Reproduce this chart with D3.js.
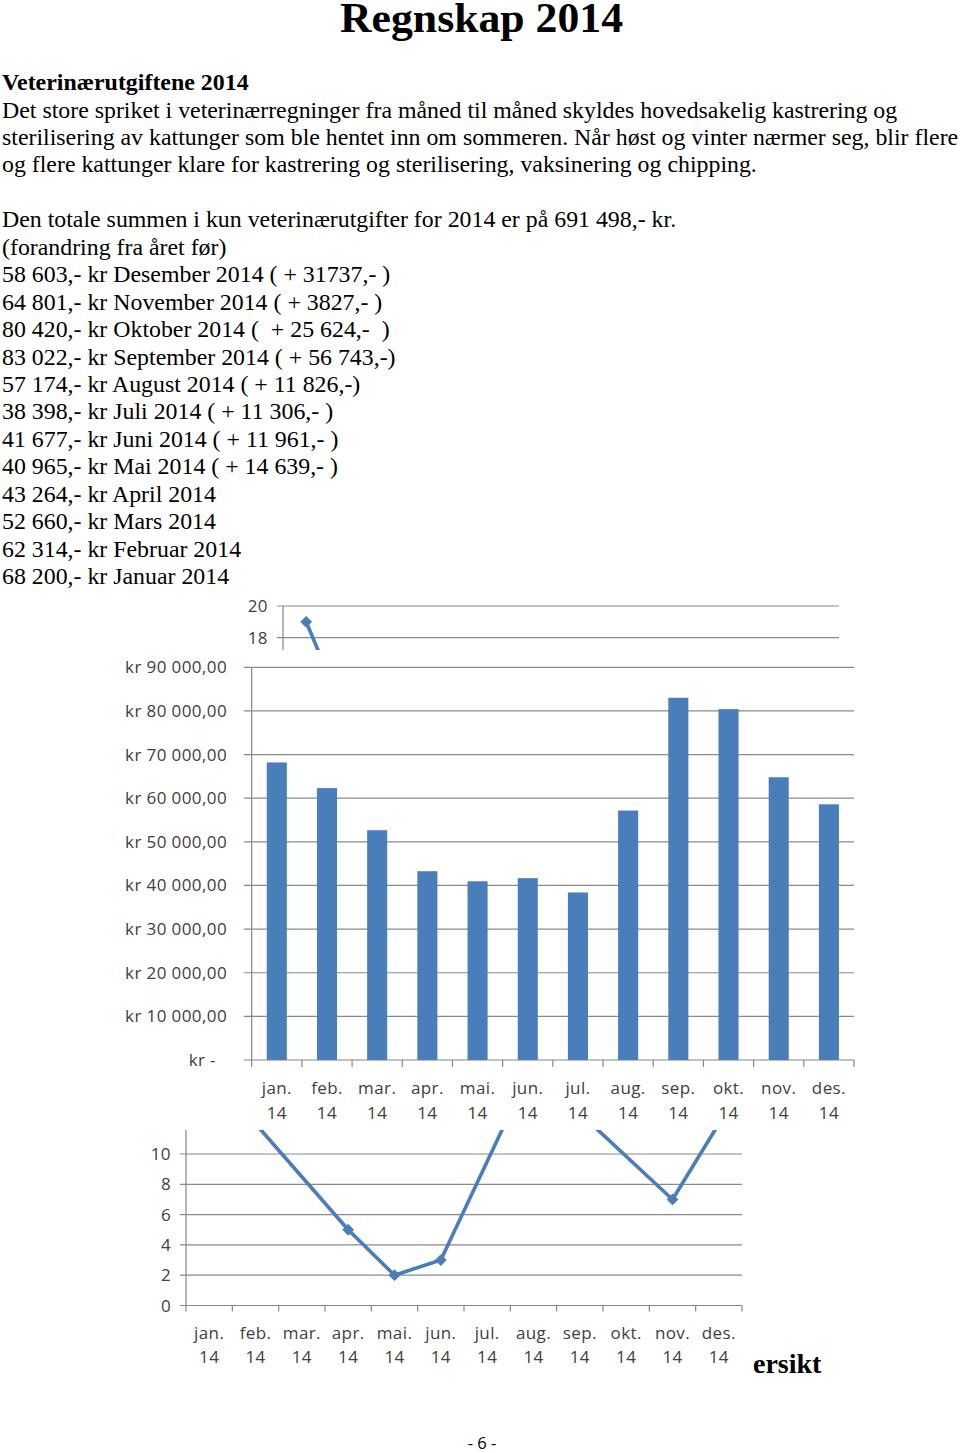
<!DOCTYPE html>
<html><head><meta charset="utf-8">
<script src="https://cdn.jsdelivr.net/npm/d3@7"></script>
<style>body{margin:0;background:#fff}svg{display:block}</style>
</head><body>
<svg id="c" width="960" height="1453"></svg>
<script>
// ---------- data ----------
const months = ["jan.","feb.","mar.","apr.","mai.","jun.","jul.","aug.","sep.","okt.","nov.","des."];
const yearLabel = "14";
const vetCosts = [68200, 62314, 52660, 43264, 40965, 41677, 38398, 57174, 83022, 80420, 64801, 58603];
const barTicks = [0, 10000, 20000, 30000, 40000, 50000, 60000, 70000, 80000, 90000];
const lineValues = [19, 12, null, 5, 2, 3, null, 16, 12.7, null, 7, 12];
const lineTicks = [0, 2, 4, 6, 8, 10, 12, 14, 16, 18, 20];
const title = "Regnskap 2014";
const heading = "Veterinærutgiftene 2014";
const paragraph = [
  "Det store spriket i veterinærregninger fra måned til måned skyldes hovedsakelig kastrering og",
  "sterilisering av kattunger som ble hentet inn om sommeren. Når høst og vinter nærmer seg, blir flere",
  "og flere kattunger klare for kastrering og sterilisering, vaksinering og chipping.",
  "",
  "Den totale summen i kun veterinærutgifter for 2014 er på 691 498,- kr.",
  "(forandring fra året før)",
  "58 603,- kr Desember 2014 ( + 31737,- )",
  "64 801,- kr November 2014 ( + 3827,- )",
  "80 420,- kr Oktober 2014 (  + 25 624,-  )",
  "83 022,- kr September 2014 ( + 56 743,-)",
  "57 174,- kr August 2014 ( + 11 826,-)",
  "38 398,- kr Juli 2014 ( + 11 306,- )",
  "41 677,- kr Juni 2014 ( + 11 961,- )",
  "40 965,- kr Mai 2014 ( + 14 639,- )",
  "43 264,- kr April 2014",
  "52 660,- kr Mars 2014",
  "62 314,- kr Februar 2014",
  "68 200,- kr Januar 2014"
];
const footerWord = "ersikt";
const pageNumber = "- 6 -";

// ---------- styles ----------
const blue = "#4a7ebb", grid = "#8a8a8a", axisCol = "#868686", lab = "#404040";
const serif = "'Liberation Serif','Times New Roman',serif";
const sans = "'Open Sans',sans-serif";
const labSize = 17, labSpacing = 0.4;

const svg = d3.select("#c");

// ---------- text block ----------
svg.append("text").attr("x", 340).attr("y", 32)
  .attr("font-family", serif).attr("font-weight", "bold").attr("font-size", 43)
  .attr("textLength", 283).attr("lengthAdjust", "spacingAndGlyphs")
  .text(title);
svg.append("text").attr("x", 2).attr("y", 90)
  .attr("font-family", serif).attr("font-weight", "bold").attr("font-size", 23.9)
  .text(heading);
svg.append("g").selectAll("text").data(paragraph).join("text")
  .attr("x", 2).attr("y", (d, i) => 117.5 + i * 27.45)
  .attr("font-family", serif).attr("font-size", 23.85).attr("fill", "#000")
  .style("white-space", "pre").attr("xml:space", "preserve")
  .text(d => d);

// ---------- line chart (drawn as two visible pieces) ----------
const lineData = lineValues.map((v, i) => ({m: months[i], v})).filter(d => d.v !== null);

function drawLineChart(g, x0, x1, yZero, yTop, labelTicks, showX) {
  const x = d3.scaleBand().domain(months).range([x0, x1]);
  const y = d3.scaleLinear().domain([0, 20]).range([yZero, yTop]);
  g.append("g").selectAll("line").data(lineTicks.filter(t => t > 0)).join("line")
    .attr("x1", x0 - 6).attr("x2", x1).attr("y1", d => y(d)).attr("y2", d => y(d))
    .attr("stroke", grid).attr("stroke-width", 1.2);
  g.append("line").attr("x1", x0).attr("x2", x0).attr("y1", yZero).attr("y2", yTop)
    .attr("stroke", axisCol).attr("stroke-width", 1.2);
  g.append("line").attr("x1", x0 - 6).attr("x2", x1).attr("y1", yZero).attr("y2", yZero)
    .attr("stroke", axisCol).attr("stroke-width", 1.2);
  const edges = months.map(m => x(m)).concat([x1]);
  g.append("g").selectAll("line").data(edges).join("line")
    .attr("x1", d => d).attr("x2", d => d).attr("y1", yZero).attr("y2", yZero + 6)
    .attr("stroke", axisCol).attr("stroke-width", 1.2);
  g.append("g").selectAll("text").data(labelTicks).join("text")
    .attr("x", x0 - 15).attr("y", d => y(d) + 6).attr("text-anchor", "end")
    .attr("font-family", sans).attr("font-size", labSize).attr("letter-spacing", labSpacing)
    .attr("fill", lab).text(d => d);
  if (showX) {
    const xl = g.append("g").selectAll("g").data(months).join("g")
      .attr("transform", d => `translate(${x(d) + x.bandwidth() / 2},0)`);
    xl.append("text").attr("y", yZero + 33).attr("text-anchor", "middle")
      .attr("font-family", sans).attr("font-size", labSize).attr("letter-spacing", labSpacing)
      .attr("fill", lab).text(d => d);
    xl.append("text").attr("y", yZero + 57).attr("text-anchor", "middle")
      .attr("font-family", sans).attr("font-size", labSize).attr("letter-spacing", labSpacing)
      .attr("fill", lab).text(yearLabel);
  }
  const line = d3.line().x(d => x(d.m) + x.bandwidth() / 2).y(d => y(d.v));
  g.append("path").datum(lineData).attr("d", line)
    .attr("fill", "none").attr("stroke", blue).attr("stroke-width", 3.6)
    .attr("stroke-linejoin", "round");
  g.append("g").selectAll("path").data(lineData).join("path")
    .attr("transform", d => `translate(${x(d.m) + x.bandwidth() / 2},${y(d.v)}) rotate(45)`)
    .attr("d", d3.symbol(d3.symbolSquare, 70)())
    .attr("fill", blue);
}

// top piece (clipped)
svg.append("clipPath").attr("id", "topclip").append("rect")
  .attr("x", 0).attr("y", 590).attr("width", 960).attr("height", 60);
const topG = svg.append("g").attr("clip-path", "url(#topclip)");
drawLineChart(topG, 283, 839, 606 + 20 * 15.8, 606, [18, 20], false);

// bottom piece
const botG = svg.append("g");
drawLineChart(botG, 186, 742, 1305.5, 1305.5 - 20 * 15.15, [0, 2, 4, 6, 8, 10], true);

// ---------- bar chart (on white panel covering the middle) ----------
svg.append("rect").attr("x", 90).attr("y", 650).attr("width", 785).attr("height", 480).attr("fill", "#fff");

const bx0 = 251.7, bx1 = 854, by0 = 1060, byTop = 667.3;
const xb = d3.scaleBand().domain(months).range([bx0, bx1]).paddingInner(0.6).paddingOuter(0.3);
const xbEdges = d3.scaleBand().domain(months).range([bx0, bx1]);
const yb = d3.scaleLinear().domain([0, 90000]).range([by0, byTop]);
const krLocale = d3.formatLocale({decimal: ",", thousands: "\u00a0", grouping: [3], currency: ["kr ", ""]});
const krFmt = krLocale.format(",.2f");

const bar = svg.append("g");
bar.append("g").selectAll("line").data(barTicks.filter(t => t > 0)).join("line")
  .attr("x1", bx0 - 8).attr("x2", bx1).attr("y1", d => yb(d)).attr("y2", d => yb(d))
  .attr("stroke", grid).attr("stroke-width", 1.2);
bar.append("line").attr("x1", bx0).attr("x2", bx0).attr("y1", by0).attr("y2", byTop)
  .attr("stroke", axisCol).attr("stroke-width", 1.2);
bar.append("line").attr("x1", bx0 - 8).attr("x2", bx1).attr("y1", by0).attr("y2", by0)
  .attr("stroke", axisCol).attr("stroke-width", 1.2);
const bEdges = months.map(m => xbEdges(m)).concat([bx1]);
bar.append("g").selectAll("line").data(bEdges).join("line")
  .attr("x1", d => d).attr("x2", d => d).attr("y1", by0).attr("y2", by0 + 7)
  .attr("stroke", axisCol).attr("stroke-width", 1.2);
bar.append("g").selectAll("text").data(barTicks).join("text")
  .attr("x", d => d === 0 ? 216 : 227).attr("y", d => yb(d) + 6).attr("text-anchor", "end")
  .attr("font-family", sans).attr("font-size", labSize).attr("letter-spacing", labSpacing)
  .attr("fill", lab)
  .text(d => d === 0 ? "kr -" : "kr " + krFmt(d));
bar.append("g").selectAll("rect").data(vetCosts).join("rect")
  .attr("x", (d, i) => xb(months[i])).attr("width", xb.bandwidth())
  .attr("y", d => yb(d)).attr("height", d => by0 - yb(d))
  .attr("fill", blue);
const bxl = bar.append("g").selectAll("g").data(months).join("g")
  .attr("transform", d => `translate(${xbEdges(d) + xbEdges.bandwidth() / 2},0)`);
bxl.append("text").attr("y", by0 + 34).attr("text-anchor", "middle")
  .attr("font-family", sans).attr("font-size", labSize).attr("letter-spacing", labSpacing)
  .attr("fill", lab).text(d => d);
bxl.append("text").attr("y", by0 + 59).attr("text-anchor", "middle")
  .attr("font-family", sans).attr("font-size", labSize).attr("letter-spacing", labSpacing)
  .attr("fill", lab).text(yearLabel);

// ---------- footer ----------
svg.append("text").attr("x", 753).attr("y", 1373)
  .attr("font-family", serif).attr("font-weight", "bold").attr("font-size", 28).text(footerWord);
svg.append("text").attr("x", 482).attr("y", 1449).attr("text-anchor", "middle")
  .attr("font-family", sans).attr("font-size", 16.5).attr("fill", "#000")
  .style("white-space", "pre").attr("xml:space", "preserve").text(pageNumber);
</script>
</body></html>
